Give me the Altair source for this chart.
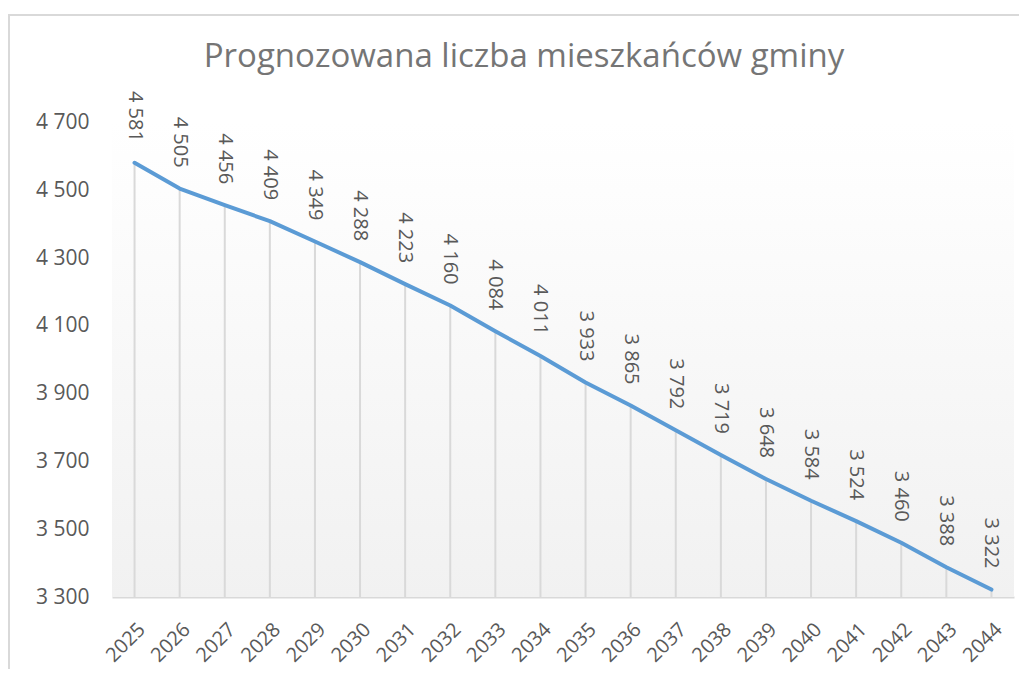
import altair as alt
import pandas as pd

years = [str(y) for y in range(2025, 2045)]
values = [4581, 4505, 4456, 4409, 4349, 4288, 4223, 4160, 4084, 4011,
          3933, 3865, 3792, 3719, 3648, 3584, 3524, 3460, 3388, 3322]
y_ticks = [3300, 3500, 3700, 3900, 4100, 4300, 4500, 4700]
title_text = "Prognozowana liczba mieszkańców gminy"

df = pd.DataFrame({
    "rok": years,
    "liczba": values,
    "etykieta": [f"{v:,}".replace(",", " ") for v in values],
})
title_df = pd.DataFrame({"t": [title_text]})

W, H = 902, 474.5
FONT = "Open Sans"
TXT = "#595959"

x_enc = alt.X("rok:O", sort=years,
              scale=alt.Scale(type="point", padding=0.5),
              axis=alt.Axis(title=None, labelAngle=-45, labelFontSize=20, labelFont=FONT,
                            labelColor=TXT, ticks=False, tickSize=0, labelPadding=22,
                            domainColor="#d9d9d9", domainWidth=2, grid=False))
y_scale = alt.Scale(domain=[3300, 4700], nice=False, zero=False)

base = alt.Chart(df)

bg = alt.Chart(df).mark_rect(
    color=alt.LinearGradient(gradient="linear", x1=0, x2=0, y1=0, y2=1,
                             stops=[alt.GradientStop(color="#ffffff", offset=0),
                                    alt.GradientStop(color="#f1f1f1", offset=1)])
).encode(x=alt.value(0), x2=alt.value(W), y=alt.value(0), y2=alt.value(H))

frame = alt.Chart(df).mark_rect(fill=None, stroke="#d9d9d9", strokeWidth=2).encode(
    x=alt.value(-103), x2=alt.value(1300), y=alt.value(-107.5), y2=alt.value(900))

title = alt.Chart(title_df).mark_text(font=FONT, fontSize=33, color="#757575",
                                      align="center", baseline="alphabetic").encode(
    text="t:N", x=alt.value(412), y=alt.value(-56))

drops = base.mark_rule(color="#d9d9d9", strokeWidth=2).encode(
    x=x_enc,
    y=alt.Y("liczba:Q", scale=y_scale),
    y2=alt.Y2Datum(3300),
)

line = base.mark_line(color="#5b9bd5", strokeWidth=4, strokeCap="round", strokeJoin="round").encode(
    x=x_enc,
    y=alt.Y("liczba:Q", scale=y_scale,
            axis=alt.Axis(title=None, values=y_ticks, labelFontSize=21, labelFont=FONT,
                          labelColor=TXT, domain=False, ticks=False, grid=False,
                          labelPadding=23,
                          labelExpr="replace(format(datum.value, ',d'), ',', ' ')")),
)

labels = base.mark_text(angle=90, align="right", baseline="middle", dx=-21,
                        fontSize=20, font=FONT, color=TXT).encode(
    x=x_enc,
    y=alt.Y("liczba:Q", scale=y_scale),
    text="etykieta:N",
)

chart = alt.layer(frame, bg, title, drops, line, labels).properties(
    width=W, height=H,
    autosize=alt.AutoSizeParams(type="none"),
    padding={"left": 104, "top": 114.5, "right": 5, "bottom": 72},
).configure_view(stroke=None)

chart.save("out.html", embed_options={"renderer": "svg", "actions": False})
